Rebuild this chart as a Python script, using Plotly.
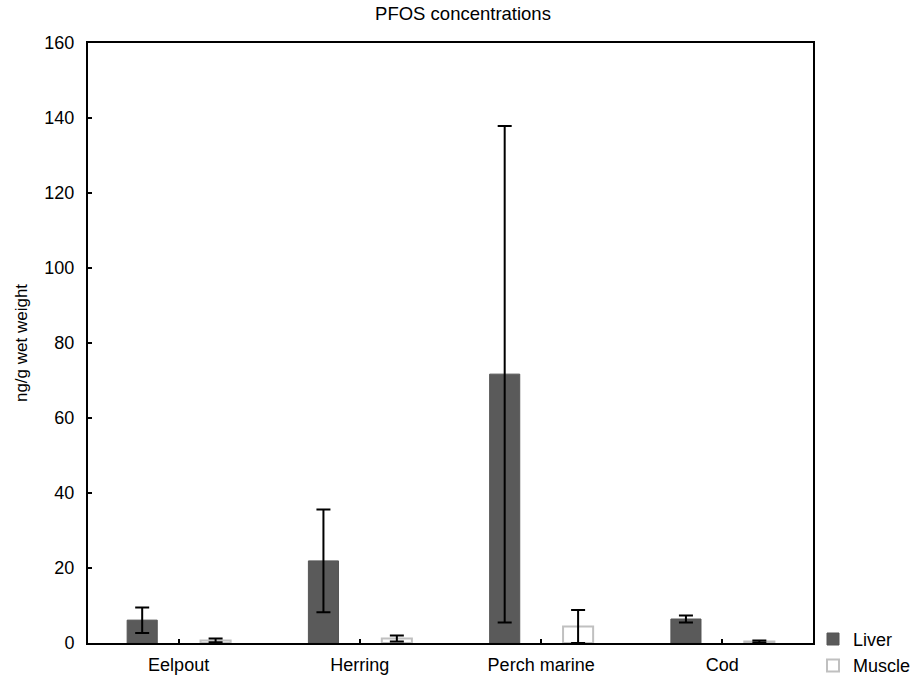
import plotly.graph_objects as go

categories = ["Eelpout", "Herring", "Perch marine", "Cod"]
liver = [6.1, 21.9, 71.7, 6.4]
liver_err = [3.4, 13.7, 66.2, 0.95]
muscle = [0.7, 1.2, 4.4, 0.4]
muscle_err = [0.5, 0.8, 4.4, 0.3]
yticks = [0, 20, 40, 60, 80, 100, 120, 140, 160]

FONT = "Liberation Sans, Arial, sans-serif"

fig = go.Figure()
fig.add_trace(go.Bar(
    name="Liver", x=categories, y=liver,
    width=0.166, offset=-0.284,
    marker=dict(color="#5a5a5a", line=dict(color="#555555", width=1)),
    error_y=dict(type="data", array=liver_err, visible=True,
                 color="black", thickness=2, width=7),
))
fig.add_trace(go.Bar(
    name="Muscle", x=categories, y=muscle,
    width=0.166, offset=0.121,
    marker=dict(color="white", line=dict(color="#c0c0c0", width=2)),
    error_y=dict(type="data", array=muscle_err, visible=True,
                 color="black", thickness=2, width=7),
))

fig.update_layout(
    width=917, height=684,
    margin=dict(l=88, r=104, t=43, b=41, autoexpand=False),
    paper_bgcolor="white", plot_bgcolor="white",
    barmode="overlay",
    font=dict(family=FONT, size=18, color="black"),
    title=dict(text="PFOS concentrations", x=463 / 917, xanchor="center",
               y=1 - 14 / 684, yanchor="middle", font=dict(size=18.5, family=FONT)),
    showlegend=True,
    legend=dict(x=1.0, y=-0.068, xanchor="left", yanchor="bottom",
                font=dict(size=18, family=FONT), bgcolor="rgba(0,0,0,0)",
                tracegroupgap=0),
    xaxis=dict(showline=True, linecolor="black", linewidth=2, mirror=True,
               ticks="inside", ticklen=4, tickwidth=1.5, tickcolor="black",
               showgrid=False, zeroline=False, ticklabelstandoff=4, automargin=False),
    yaxis=dict(range=[0, 160], tickvals=yticks, showline=True, linecolor="black",
               linewidth=2, mirror=True, ticks="inside", ticklen=4, tickwidth=1.5,
               tickcolor="black", showgrid=False, zeroline=False,
               ticklabelstandoff=8, automargin=False,
               title=dict(text="ng/g wet weight", font=dict(size=17, family=FONT), standoff=12)),
)

fig.write_html("out.html")
